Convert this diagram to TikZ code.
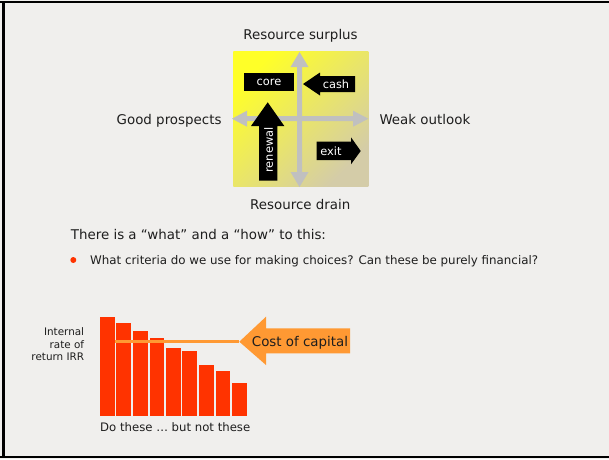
\documentclass[tikz,border=0pt]{standalone}
\usepackage{fontspec}
\setmainfont{DejaVu Sans}
\definecolor{bg}{RGB}{240,239,237}
\definecolor{txt}{RGB}{30,30,30}
\definecolor{axisgray}{RGB}{192,192,192}
\definecolor{barred}{RGB}{255,51,0}
\definecolor{costorange}{RGB}{255,153,51}
\definecolor{gyellow}{RGB}{255,255,40}
\definecolor{gtan}{RGB}{212,204,168}
\tikzset{
  lbl/.style={inner sep=0pt, text=txt, font=\fontsize{13.4}{16}\selectfont},
  wlbl/.style={inner sep=0pt, text=white, font=\fontsize{11.4}{13}\selectfont},
  bar/.style={fill=barred, draw=none},
  blackarrow/.style={fill=black, draw=none},
  grayarrow/.style={fill=axisgray, draw=none}
}
\begin{document}
\begin{tikzpicture}[x=1pt,y=-1pt]
\fill[bg] (0,0) rectangle (609,459);
\useasboundingbox (0,0) rectangle (609,459);
\draw[black, line width=1.8pt] (0,2.3) -- (609,2.3);
\draw[black, line width=2pt] (0,457.2) -- (609,457.2);
\draw[black, line width=3pt] (3,1.5) -- (3,458.2);

% quadrant background
\shade[top color=gyellow, bottom color=gtan, shading angle=45] (233.3,51.7) rectangle (368.3,186);

% gray axes
\path[grayarrow] (299.5,52) -- (308.5,67) -- (302,67) -- (302,172) -- (308.5,172) -- (299.5,187)
  -- (290.5,172) -- (297,172) -- (297,67) -- (290.5,67) -- cycle;
\path[grayarrow] (232,118.7) -- (247,110.7) -- (247,116.2) -- (353,116.2) -- (353,110.7) -- (368.3,118.7)
  -- (353,126.7) -- (353,121.2) -- (247,121.2) -- (247,126.7) -- cycle;

% black arrows
\path[blackarrow] (244,72.5) rectangle (294,91);
\node[wlbl] (core) at (269,82) {core};
\path[blackarrow] (303,84) -- (320,72.5) -- (320,76) -- (355,76) -- (355,92) -- (320,92) -- (320,95.5) -- cycle;
\node[wlbl] (cash) at (336,84) {cash};
\path[blackarrow] (267.7,102.3) -- (284.3,126) -- (277.3,126) -- (277.3,180.7) -- (259,180.7) -- (259,126) -- (251,126) -- cycle;
\node[wlbl, rotate=90] (renewal) at (268.5,150) {renewal};
\path[blackarrow] (316.7,141.7) -- (351,141.7) -- (351,137.3) -- (360.7,151) -- (351,164.3) -- (351,160) -- (316.7,160) -- cycle;
\node[wlbl] (exit) at (331,151) {exit};

% quadrant labels
\node[lbl, anchor=base] (surplus) at (300.5,39) {Resource surplus};
\node[lbl, anchor=base east] (good) at (221.7,124) {Good prospects};
\node[lbl, anchor=base west] (weak) at (379.3,124) {Weak outlook};
\node[lbl, anchor=base] (drain) at (300.3,209) {Resource drain};

% text
\node[lbl, anchor=base west] (what) at (70.7,239) {There is a “what” and a “how” to this:};
\fill[barred] (73.3,260) circle (3);
\node[lbl, anchor=base west, font=\fontsize{11.85}{14}\selectfont] (crit) at (90,264.3) {What criteria do we use for making choices? Can these be purely financial?};

% bars
\path[bar] (100,316.7) rectangle (115,415.7);
\path[bar] (116.3,322.7) rectangle (131,415.7);
\path[bar] (133,330.7) rectangle (148,415.7);
\path[bar] (150,337.7) rectangle (164,415.7);
\path[bar] (166,347.7) rectangle (181,415.7);
\path[bar] (182.3,350.7) rectangle (197,415.7);
\path[bar] (199,364.7) rectangle (214,415.7);
\path[bar] (216,370.7) rectangle (230,415.7);
\path[bar] (232,382.7) rectangle (247,415.7);

% cost of capital arrow
\coordinate (lstart) at (115,341.3);
\coordinate (tip) at (239.3,341.3);
\draw[costorange, line width=3pt] (lstart) -- (tip);
\fill[costorange] (239.3,341.7) -- (266,316.7) -- (266,328.3) -- (350,328.3) -- (350,353.3) -- (266,353.3) -- (266,365) -- cycle;
\node[lbl, anchor=base west] (cost) at (251.7,346) {Cost of capital};

% axis label
\node[inner sep=0pt, text=txt, anchor=base east, align=right, font=\fontsize{10.4}{12.7}\selectfont] (irr) at (84.3,360.7) {Internal\\rate of\\return IRR};
\node[lbl, anchor=base west, font=\fontsize{11.7}{14}\selectfont] (dothese) at (100,431.7) {Do these … but not these};
\end{tikzpicture}
\end{document}
